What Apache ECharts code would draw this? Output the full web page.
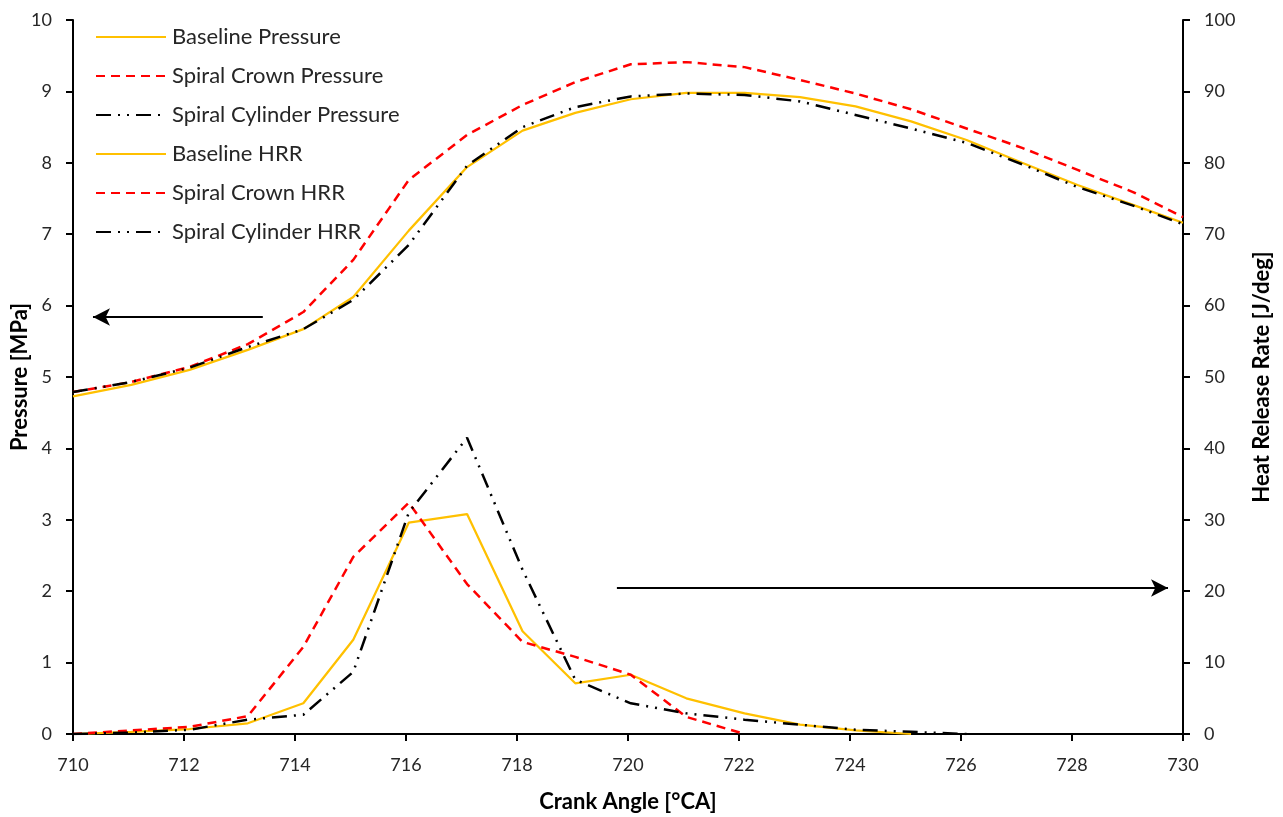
<!DOCTYPE html>
<html>
<head>
<meta charset="utf-8">
<script src="https://cdn.jsdelivr.net/npm/echarts@6/dist/echarts.min.js"></script>
<style>html,body{margin:0;padding:0;background:#fff}#c{width:1283px;height:817px}</style>
</head>
<body>
<div id="c"></div>
<script>
var crankAngle = [710, 711.05, 712.1, 713.15, 714.15, 715.05, 716.05, 717.1, 718.1, 719.05, 720.05, 721.05, 722.1, 723.1, 724.1, 725.1, 726.1, 727.1, 728.1, 729.1, 730];
var baselinePressure = [4.73, 4.89, 5.10, 5.38, 5.67, 6.12, 7.05, 7.94, 8.45, 8.70, 8.89, 8.98, 8.98, 8.92, 8.79, 8.58, 8.32, 8.00, 7.69, 7.41, 7.16];
var crownPressure = [4.79, 4.93, 5.14, 5.46, 5.91, 6.64, 7.76, 8.39, 8.81, 9.13, 9.38, 9.41, 9.34, 9.16, 8.97, 8.75, 8.48, 8.21, 7.90, 7.59, 7.24];
var cylinderPressure = [4.79, 4.93, 5.13, 5.42, 5.67, 6.08, 6.85, 7.96, 8.50, 8.78, 8.93, 8.97, 8.95, 8.86, 8.67, 8.48, 8.28, 7.98, 7.66, 7.40, 7.14];
var baselineHRR = [0, 0.3, 0.7, 1.5, 4.3, 13.2, 29.6, 30.8, 14.4, 7.1, 8.3, 5.0, 2.9, 1.3, 0.5, 0.0, null, null, null, null, null];
var crownHRR = [0, 0.5, 1.0, 2.5, 12.2, 24.8, 32.4, 21.0, 12.9, 10.8, 8.3, 2.4, 0, null, null, null, null, null, null, null, null];
var cylinderHRR = [0, 0.2, 0.6, 2.0, 2.7, 8.7, 31.0, 41.5, 23.0, 7.6, 4.3, 2.9, 2.0, 1.3, 0.6, 0.3, 0, null, null, null, null];
var seriesNames = ['Baseline Pressure', 'Spiral Crown Pressure', 'Spiral Cylinder Pressure', 'Baseline HRR', 'Spiral Crown HRR', 'Spiral Cylinder HRR'];
var pressureTicks = {min: 0, max: 10, interval: 1};
var hrrTicks = {min: 0, max: 100, interval: 10};
var angleTicks = {min: 710, max: 730, interval: 2};
var leftArrow = [[713.42, 5.84], [710.36, 5.84]];
var rightArrow = [[719.8, 2.045], [729.73, 2.045]];

function pairs(ys) {
  var out = [];
  for (var i = 0; i < crankAngle.length; i++) {
    if (ys[i] !== null) out.push([crankAngle[i], ys[i]]);
  }
  return out;
}

var FONT = 'Lato';
var yellow = {color: '#FFC000', width: 2.25, type: 'solid'};
var red = {color: '#FF0000', width: 2.5, type: [9, 6]};
var black = {color: '#000000', width: 2.5, type: [15, 7, 2, 7, 2, 7]};

function mk(name, data, style, yIdx) {
  return {
    name: name, type: 'line', data: pairs(data), yAxisIndex: yIdx,
    showSymbol: false, symbol: 'none', smooth: false, animation: false,
    lineStyle: style, itemStyle: {color: style.color},
    emphasis: {disabled: true}
  };
}

var series = [
  mk(seriesNames[0], baselinePressure, yellow, 0),
  mk(seriesNames[1], crownPressure, red, 0),
  mk(seriesNames[2], cylinderPressure, black, 0),
  mk(seriesNames[3], baselineHRR, yellow, 1),
  mk(seriesNames[4], crownHRR, red, 1),
  mk(seriesNames[5], cylinderHRR, black, 1)
];
series[0].markLine = {
  silent: true, animation: false,
  symbol: ['none', 'arrow'], symbolSize: [13, 17],
  label: {show: false},
  lineStyle: {color: '#000', width: 2, type: 'solid'},
  emphasis: {disabled: true},
  data: [
    [{coord: leftArrow[0]}, {coord: leftArrow[1]}],
    [{coord: rightArrow[0]}, {coord: rightArrow[1]}]
  ]
};

var tickLabel = {fontFamily: FONT, fontSize: 18, color: '#262626', margin: 21};
var titleStyle = {fontFamily: FONT, fontSize: 22, fontWeight: 'bold', color: '#000'};
var axisLine = {show: true, onZero: false, lineStyle: {color: '#000', width: 2}};
var axisTick = {show: true, inside: false, length: 7, lineStyle: {color: '#000', width: 2}};

var chart = echarts.init(document.getElementById('c'), null, {renderer: 'canvas'});
chart.setOption({
  backgroundColor: '#fff',
  animation: false,
  textStyle: {fontFamily: FONT},
  grid: {left: 73, right: 100, top: 20, bottom: 83, containLabel: false, outerBoundsMode: 'none'},
  legend: {
    orient: 'vertical', left: 95, top: 26, padding: 0,
    itemWidth: 70, itemHeight: 14, itemGap: 17,
    data: seriesNames,
    itemStyle: {opacity: 0},
    textStyle: {fontFamily: FONT, fontSize: 22, color: '#262626', padding: [0, 0, 0, 1]},
    selectedMode: false
  },
  xAxis: {
    type: 'value', min: angleTicks.min, max: angleTicks.max, interval: angleTicks.interval,
    name: 'Crank Angle [°CA]', nameLocation: 'middle', nameGap: 57, nameMoveOverlap: false,
    nameTextStyle: titleStyle,
    axisLine: axisLine, axisTick: axisTick,
    axisLabel: {fontFamily: FONT, fontSize: 18, color: '#262626', margin: 22},
    splitLine: {show: false}
  },
  yAxis: [
    {
      type: 'value', position: 'left', min: pressureTicks.min, max: pressureTicks.max, interval: pressureTicks.interval,
      name: 'Pressure [MPa]', nameLocation: 'middle', nameGap: 42, nameRotate: 90, nameMoveOverlap: false,
      nameTextStyle: titleStyle,
      axisLine: axisLine, axisTick: axisTick,
      axisLabel: tickLabel,
      splitLine: {show: false}
    },
    {
      type: 'value', position: 'right', min: hrrTicks.min, max: hrrTicks.max, interval: hrrTicks.interval,
      name: 'Heat Release Rate [J/deg]', nameLocation: 'middle', nameGap: 68, nameRotate: 90, nameMoveOverlap: false,
      nameTextStyle: titleStyle,
      axisLine: axisLine, axisTick: axisTick,
      axisLabel: tickLabel,
      splitLine: {show: false}
    }
  ],
  series: series
});
</script>
</body>
</html>
